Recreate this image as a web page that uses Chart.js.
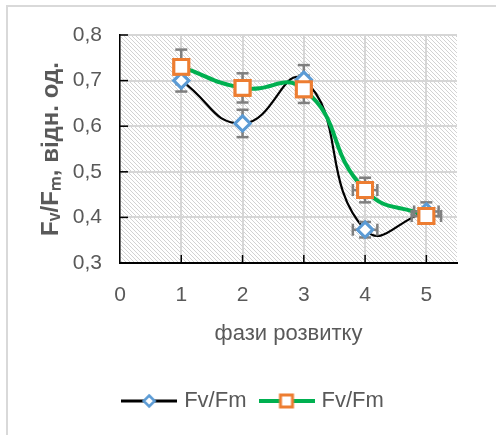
<!DOCTYPE html>
<html><head><meta charset="utf-8">
<style>
html,body{margin:0;padding:0;background:#fff;overflow:hidden}
#frame{position:absolute;left:6px;top:5px;width:700px;height:700px;border-left:2.5px solid #d9d9d9;border-top:2.5px solid #d9d9d9;box-sizing:border-box}
#wrap{position:absolute;left:0;top:0;width:496px;height:435px}
</style>
<script src="https://cdn.jsdelivr.net/npm/chart.js@4.4.0/dist/chart.umd.min.js"></script>
</head><body>
<div id="frame"></div>
<div id="wrap"><canvas id="c" width="496" height="435"></canvas></div>
<script>
const phases = [1, 2, 3, 4, 5];
const seriesA = [0.700, 0.606, 0.702, 0.373, 0.413];
const seriesB = [0.730, 0.684, 0.681, 0.460, 0.403];
const errAy = [0.024, 0.030, 0.032, 0.017, 0.020];
const errBy = [0.038, 0.032, 0.030, 0.027, 0.015];
const errAx = [0, 0, 0, 0.2, 0.2];
const errBx = [0, 0, 0, 0.2, 0.24];
const xTickLabels = ['0', '1', '2', '3', '4', '5'];
const yTickLabels = ['0,3', '0,4', '0,5', '0,6', '0,7', '0,8'];
const seriesNames = ['Fv/Fm', 'Fv/Fm'];
const xTitle = 'фази розвитку';
const yTitle = 'Fᵥ/Fₘ, відн. од.';

Chart.defaults.font.family = "'Liberation Sans', Arial, sans-serif";

function legendImg(lineColor, lineW, style, stroke, r, bw) {
  const c = document.createElement('canvas');
  c.width = 56; c.height = 24;
  const g = c.getContext('2d');
  g.strokeStyle = lineColor; g.lineWidth = lineW;
  g.beginPath(); g.moveTo(0, 12); g.lineTo(56, 12); g.stroke();
  g.fillStyle = '#fff'; g.strokeStyle = stroke; g.lineWidth = bw;
  g.beginPath();
  if (style === 'diamond') {
    g.moveTo(28, 12 - r); g.lineTo(28 + r, 12); g.lineTo(28, 12 + r); g.lineTo(28 - r, 12); g.closePath();
  } else {
    g.rect(28 - r, 12 - r, 2 * r, 2 * r);
  }
  g.fill(); g.stroke();
  return c;
}
const legendImgs = [
  legendImg('#000000', 3, 'diamond', '#5b9bd5', 5.5, 2.5),
  legendImg('#00b050', 4, 'square', '#ed7d31', 6, 3)
];

function makeHatch(ctx) {
  const c = document.createElement('canvas');
  c.width = 4; c.height = 4;
  const g = c.getContext('2d');
  g.fillStyle = '#ffffff'; g.fillRect(0, 0, 4, 4);
  g.fillStyle = '#d2d2d2';
  for (let i = 0; i < 4; i++) g.fillRect(i, i, 1, 1);
  return ctx.createPattern(c, 'repeat');
}

function seg(ctx, x1, y1, x2, y2) {
  ctx.beginPath(); ctx.moveTo(x1, y1); ctx.lineTo(x2, y2); ctx.stroke();
}

const decor = {
  id: 'decor',
  afterLayout(chart) {
    if (chart.legend) { chart.legend.left += 26; chart.legend.right += 26; }
  },
  beforeDraw(chart) {
    const {ctx, chartArea: a} = chart;
    ctx.save();
    ctx.fillStyle = makeHatch(ctx);
    ctx.fillRect(a.left, a.top, a.right - a.left, a.bottom - a.top);
    ctx.restore();
  },
  afterDatasetsDraw(chart) {
    const xs = chart.scales.x, ys = chart.scales.y, ctx = chart.ctx;
    ctx.save();
    ctx.strokeStyle = '#7f7f7f'; ctx.lineWidth = 2.5;
    const cap = 6;
    [[seriesA, errAy, errAx], [seriesB, errBy, errBx]].forEach(([vals, ey, ex]) => {
      phases.forEach((p, i) => {
        const px = xs.getPixelForValue(p), py = ys.getPixelForValue(vals[i]);
        if (ey[i] > 0) {
          const t = ys.getPixelForValue(vals[i] + ey[i]), b = ys.getPixelForValue(vals[i] - ey[i]);
          seg(ctx, px, t, px, b); seg(ctx, px - cap, t, px + cap, t); seg(ctx, px - cap, b, px + cap, b);
        }
        if (ex[i] > 0) {
          const l = xs.getPixelForValue(p - ex[i]), r = xs.getPixelForValue(p + ex[i]);
          seg(ctx, l, py, r, py); seg(ctx, l, py - cap, l, py + cap); seg(ctx, r, py - cap, r, py + cap);
        }
      });
    });
    ctx.restore();
    const metas = chart.getSortedVisibleDatasetMetas();
    for (let i = metas.length - 1; i >= 0; i--) {
      metas[i].data.forEach(pt => pt.draw(ctx, chart.chartArea));
    }
  },
  afterDraw(chart) {
    const xs = chart.scales.x, ys = chart.scales.y, ctx = chart.ctx, a = chart.chartArea;
    ctx.save();
    ctx.strokeStyle = '#000'; ctx.lineWidth = 1.5;
    xs.ticks.forEach(t => { const px = xs.getPixelForValue(t.value); if (t.value > 0) seg(ctx, px, a.bottom, px, a.bottom - 8); });
    ys.ticks.forEach(t => { const py = ys.getPixelForValue(t.value); seg(ctx, a.left, py, a.left + 8, py); });
    ctx.restore();
  }
};

const tickFont = {size: 21};
new Chart(document.getElementById('c'), {
  type: 'line',
  data: {
    datasets: [
      {
        label: seriesNames[0],
        data: phases.map((x, i) => ({x, y: seriesA[i]})),
        borderColor: '#000000', borderWidth: 2.2, tension: 0.5, fill: false,
        pointStyle: 'rectRot', pointRadius: 7.5, pointBorderColor: '#5b9bd5',
        pointBackgroundColor: '#ffffff', pointBorderWidth: 3, order: 2
      },
      {
        label: seriesNames[1],
        data: phases.map((x, i) => ({x, y: seriesB[i]})),
        borderColor: '#00b050', borderWidth: 4, tension: 0.5, fill: false,
        pointStyle: 'rect', pointRadius: 10.5, pointBorderColor: '#ed7d31',
        pointBackgroundColor: '#ffffff', pointBorderWidth: 3, order: 1
      }
    ]
  },
  options: {
    responsive: false,
    animation: false,
    layout: {padding: {left: 0, top: 35, right: 39, bottom: 13}},
    plugins: {
      tooltip: {enabled: false},
      legend: {
        position: 'bottom',
        labels: {
          usePointStyle: true,
          pointStyleWidth: 48,
          padding: 16,
          color: '#595959',
          font: {size: 22},
          generateLabels: (chart) => chart.data.datasets.map((ds, i) => ({
            text: ds.label, pointStyle: legendImgs[i], datasetIndex: i, hidden: false,
            fontColor: '#595959', lineWidth: 0, strokeStyle: 'rgba(0,0,0,0)', fillStyle: 'rgba(0,0,0,0)'
          }))
        }
      }
    },
    scales: {
      x: {
        type: 'linear', min: 0, max: 5.5,
        ticks: {
          stepSize: 1, includeBounds: false, padding: 20, color: '#595959', font: tickFont,
          callback: (v) => xTickLabels[Math.round(v)]
        },
        grid: {color: '#d6d6d6', lineWidth: 2, drawTicks: false},
        border: {color: '#000000', width: 2},
        title: {display: true, text: xTitle, color: '#595959', font: {size: 22}, padding: {top: 0, bottom: 27}},
        afterFit: (s) => { s.height = 111; }
      },
      y: {
        type: 'linear', min: 0.3, max: 0.8,
        ticks: {
          stepSize: 0.1, padding: 18, color: '#595959', font: tickFont,
          callback: (v) => yTickLabels[Math.round((v - 0.3) * 10)]
        },
        grid: {color: '#d6d6d6', lineWidth: 2, drawTicks: false},
        border: {color: '#000000', width: 1.5},
        title: {display: true, text: yTitle, color: '#595959', font: {size: 24, weight: 'bold'}, padding: {top: 37, bottom: 0}},
        afterFit: (s) => { s.width = 120; }
      }
    }
  },
  plugins: [decor]
});
</script>
</body></html>
